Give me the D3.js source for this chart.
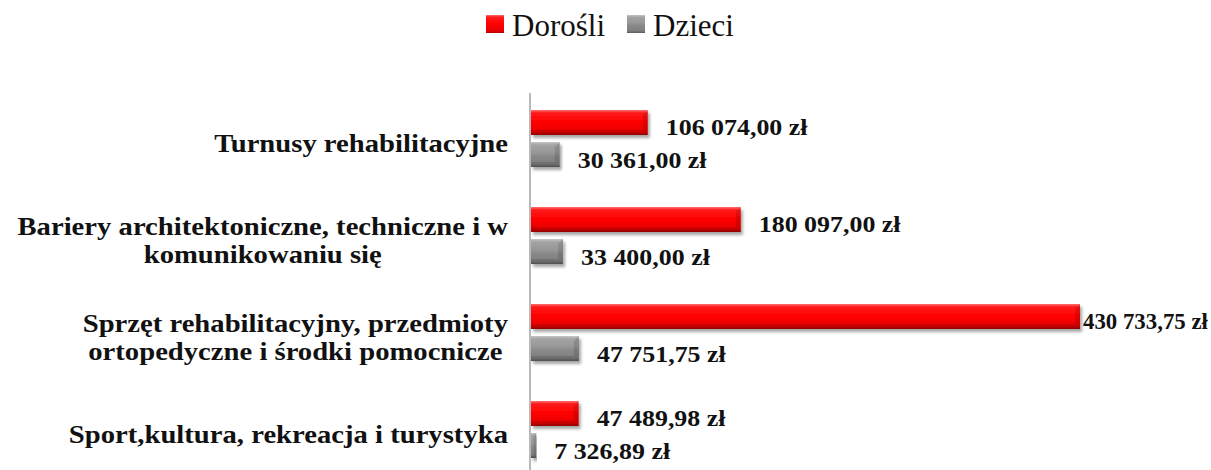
<!DOCTYPE html>
<html>
<head>
<meta charset="utf-8">
<script src="https://cdnjs.cloudflare.com/ajax/libs/d3/7.8.5/d3.min.js"></script>
<style>
  body { margin: 0; background: #fff; }
  text { font-family: "Liberation Serif", "Times New Roman", serif; }
</style>
</head>
<body>
<div id="chart"></div>
<script>
// data
var categories = [
    ["Turnusy rehabilitacyjne"],
    ["Bariery architektoniczne, techniczne i w", "komunikowaniu się"],
    ["Sprzęt rehabilitacyjny, przedmioty", "ortopedyczne i środki pomocnicze"],
    ["Sport,kultura, rekreacja i turystyka"]
];
var seriesNames = ["Dorośli", "Dzieci"];
var dorosli = [106074.00, 180097.00, 430733.75, 47489.98];
var dzieci = [30361.00, 33400.00, 47751.75, 7326.89];

var width = 1211, height = 470;
var x0 = 530, xMax = 1080;
var labelRight = 508;

var svg = d3.select("#chart").append("svg")
    .attr("width", width)
    .attr("height", height);

var defs = svg.append("defs");

function grad(id, stops) {
    var g = defs.append("linearGradient").attr("id", id)
        .attr("x1", 0).attr("y1", 0).attr("x2", 0).attr("y2", 1);
    stops.forEach(function (s) {
        g.append("stop").attr("offset", s[0]).attr("stop-color", s[1]);
    });
}
grad("gRed", [["0%", "#ff7070"], ["12%", "#ff1a1a"], ["50%", "#ff0000"], ["88%", "#e60000"], ["100%", "#a30000"]]);
grad("gGrey", [["0%", "#c4c4c4"], ["12%", "#a3a3a3"], ["45%", "#969696"], ["55%", "#8a8a8a"], ["88%", "#7e7e7e"], ["100%", "#5a5a5a"]]);

var f = defs.append("filter").attr("id", "shadow")
    .attr("x", "-5%").attr("y", "-20%").attr("width", "115%").attr("height", "160%");
f.append("feDropShadow").attr("dx", 2).attr("dy", 3).attr("stdDeviation", 1.6)
    .attr("flood-color", "#000").attr("flood-opacity", 0.35);

// scales (pow scale: the source chart is not strictly proportional)
var x = d3.scalePow().exponent(1.1)
    .domain([0, d3.max(dorosli)])
    .range([x0, xMax]);

var y = d3.scaleBand()
    .domain(d3.range(categories.length))
    .range([90.5, 478.5]);

var ySub = d3.scaleBand()
    .domain(seriesNames)
    .range([19.5, 76.5])
    .paddingInner(0.22);

var fills = {"Dorośli": "url(#gRed)", "Dzieci": "url(#gGrey)"};

var rows = [];
categories.forEach(function (c, i) {
    rows.push({i: i, s: "Dorośli", v: dorosli[i]});
    rows.push({i: i, s: "Dzieci", v: dzieci[i]});
});

// axis line
svg.append("line")
    .attr("x1", x0).attr("x2", x0)
    .attr("y1", 93).attr("y2", height)
    .attr("stroke", "#8a8a8a").attr("stroke-width", 1.2);

var bars = svg.selectAll(".bar")
    .data(rows)
    .enter().append("g")
    .attr("class", "bar")
    .attr("transform", function (d) {
        return "translate(" + (x0 + 1) + "," + (y(d.i) + ySub(d.s)) + ")";
    });

bars.append("rect")
    .attr("width", function (d) { return Math.max(2, x(d.v) - x0 - 1); })
    .attr("height", ySub.bandwidth())
    .attr("fill", function (d) { return fills[d.s]; })
    .attr("filter", "url(#shadow)");

// bevel edges
var bh = ySub.bandwidth();
bars.append("path")
    .attr("d", function (d) {
        var w = Math.max(2, x(d.v) - x0 - 1), b = Math.min(5, w / 2);
        return "M" + w + ",0L" + w + "," + bh + "L" + (w - b) + "," + (bh - b) + "L" + (w - b) + "," + b + "Z";
    })
    .attr("fill", "#000").attr("opacity", 0.12);
bars.append("path")
    .attr("d", function (d) {
        var w = Math.max(2, x(d.v) - x0 - 1), b = Math.min(5, w / 2);
        return "M0," + bh + "L" + w + "," + bh + "L" + (w - b) + "," + (bh - b) + "L0," + (bh - b) + "Z";
    })
    .attr("fill", "#000").attr("opacity", 0.12);

// value labels (text is a bit wider than tall in the source, hence scaleX)
function fmt(v) {
    var s = v.toFixed(2).split(".");
    return s[0].replace(/\B(?=(\d{3})+(?!\d))/g, " ") + "," + s[1] + " zł";
}
var valSx = 1.08;
svg.selectAll(".val")
    .data(rows)
    .enter().append("text")
    .attr("class", "val")
    .attr("font-size", 24)
    .attr("font-weight", "bold")
    .attr("fill", "#111")
    .text(function (d) { return fmt(d.v); })
    .attr("transform", function (d) {
        var tx = Math.min(x(d.v) + 18, x0 + 553);
        var ty = y(d.i) + ySub(d.s) + bh / 2 + 13;
        // squeeze the label a little if it would run past the right edge
        var w = this.getComputedTextLength();
        var sx = Math.min(valSx, (width - 3 - tx) / w);
        return "translate(" + tx + "," + ty + ") scale(" + sx + ",1)";
    });

// category labels
var catSx = 1.17;
categories.forEach(function (lines, i) {
    var g = svg.append("g")
        .attr("transform", "translate(" + labelRight + ",0) scale(" + catSx + ",1)");
    var n = lines.length;
    var texts = lines.map(function (l, k) {
        return g.append("text")
            .attr("y", y(i) + y.bandwidth() / 2 + 13 + (k - (n - 1) / 2) * 28)
            .attr("font-size", 24.5)
            .attr("font-weight", "bold")
            .attr("text-anchor", "middle")
            .attr("fill", "#111")
            .text(l);
    });
    var maxW = d3.max(texts, function (t) { return t.node().getComputedTextLength(); });
    texts.forEach(function (t) { t.attr("x", -maxW / 2); });
});

// legend
var lx = 486;
seriesNames.forEach(function (s) {
    svg.append("rect")
        .attr("x", lx).attr("y", 15)
        .attr("width", 18).attr("height", 18)
        .attr("fill", fills[s]);
    var t = svg.append("text")
        .attr("x", lx + 26).attr("y", 36)
        .attr("font-size", 31)
        .attr("fill", "#111")
        .text(s);
    lx += 26 + t.node().getComputedTextLength() + 22;
});
</script>
</body>
</html>
